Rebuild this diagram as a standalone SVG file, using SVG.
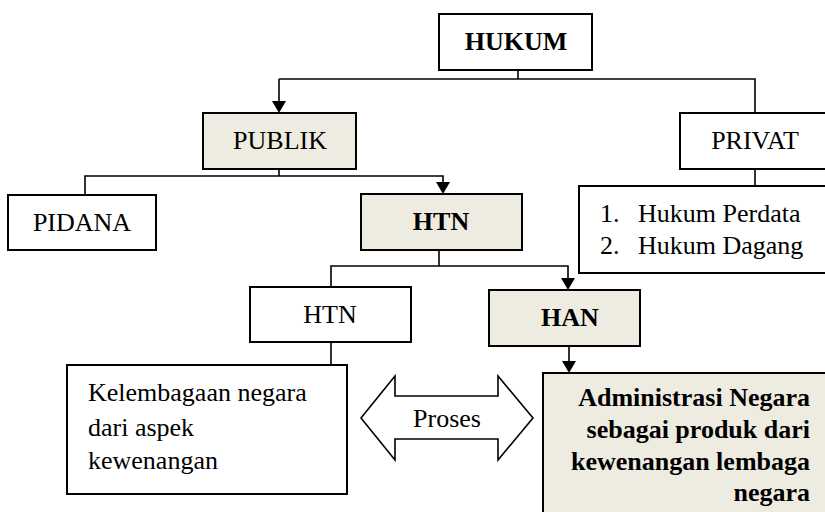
<svg xmlns="http://www.w3.org/2000/svg" width="825" height="512" viewBox="0 0 825 512">
<style>
.box{fill:#fff;stroke:#000;stroke-width:2}
.sh{fill:#EEECE1;stroke:#000;stroke-width:2}
.ln{fill:none;stroke:#000;stroke-width:1.6}
text{font-family:"Liberation Serif","Times New Roman",serif;font-size:26px;fill:#000}
.b{font-weight:bold}
.c{text-anchor:middle}
.r{text-anchor:end}
</style>
<rect width="825" height="512" fill="#fff"/>
<g id="connectors">
<path class="ln" d="M518,70 V79"/>
<path class="ln" d="M279,79 H755 V113"/>
<path class="ln" d="M279,79 V101"/>
<path d="M272,101 L286,101 L279,113 Z" fill="#000"/>
<path class="ln" d="M279,169 V176"/>
<path class="ln" d="M85,195 V176 H443 V182"/>
<path d="M436,182 L450,182 L443,194 Z" fill="#000"/>
<path class="ln" d="M755,169 V186"/>
<path class="ln" d="M439,250 V266"/>
<path class="ln" d="M331,287 V266 H568 V278"/>
<path d="M561,278 L575,278 L568,290 Z" fill="#000"/>
<path class="ln" d="M331,342 V365"/>
<path class="ln" d="M569,346 V361"/>
<path d="M562,361 L576,361 L569,373 Z" fill="#000"/>
</g>
<g id="hukum"><rect class="box" x="439" y="14" width="153" height="56"/><text class="b c" x="516" y="50">HUKUM</text></g>
<g id="publik"><rect class="sh" x="203" y="113" width="153" height="56"/><text class="c" x="280" y="149">PUBLIK</text></g>
<g id="privat"><rect class="box" x="680" y="113" width="150" height="56"/><text class="c" x="755" y="149">PRIVAT</text></g>
<g id="pidana"><rect class="box" x="8" y="195" width="148" height="55"/><text class="c" x="82" y="231">PIDANA</text></g>
<g id="htn-bold"><rect class="sh" x="361" y="194" width="161" height="56"/><text class="b c" x="441" y="230">HTN</text></g>
<g id="list"><rect class="box" x="579" y="186" width="252" height="87"/>
<text x="600" y="222">1.</text><text x="638" y="222">Hukum Perdata</text>
<text x="600" y="254">2.</text><text x="638" y="254">Hukum Dagang</text></g>
<g id="htn"><rect class="box" x="250" y="287" width="161" height="55"/><text class="c" x="330" y="323">HTN</text></g>
<g id="han"><rect class="sh" x="489" y="290" width="151" height="56"/><text class="b c" x="570" y="326">HAN</text></g>
<g id="kelembagaan"><rect class="box" x="67" y="365" width="280" height="129"/>
<text x="88" y="401">Kelembagaan negara</text>
<text x="88" y="436">dari aspek</text>
<text x="88" y="469">kewenangan</text></g>
<g id="proses"><path fill="#fff" stroke="#000" stroke-width="1.6" d="M361,418 L395,376 V396 H498 V376 L533,418 L498,460 V439 H395 V460 Z"/>
<text class="c" x="447" y="427">Proses</text></g>
<g id="admin"><rect class="sh" x="543" y="373" width="290" height="145"/>
<text class="b r" x="810" y="406">Administrasi Negara</text>
<text class="b r" x="810" y="438">sebagai produk dari</text>
<text class="b r" x="810" y="470">kewenangan lembaga</text>
<text class="b r" x="810" y="501">negara</text></g>
</svg>
